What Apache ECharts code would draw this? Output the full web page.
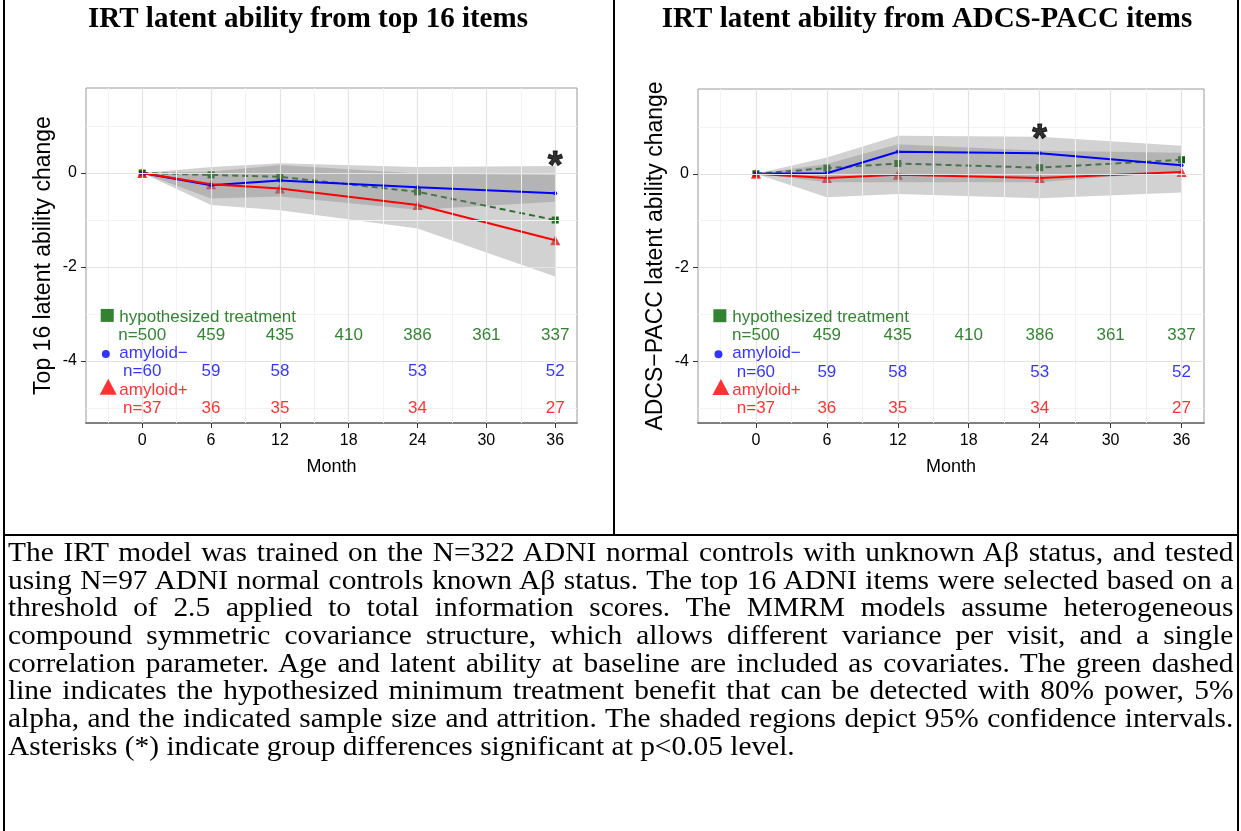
<!DOCTYPE html>
<html>
<head>
<meta charset="utf-8">
<title>IRT latent ability</title>
<script src="https://cdn.jsdelivr.net/npm/echarts@6.0.0/dist/echarts.min.js"></script>
<style>
  html, body { margin: 0; padding: 0; background: #fff; }
  body { width: 1241px; height: 831px; position: relative; overflow: hidden; }
  #chart { position: absolute; left: 0; top: 0; width: 1241px; height: 534px; }
  .rule { position: absolute; background: #000; }
  #caption { position: absolute; left: 8px; top: 539px; width: 1100px; transform: scaleX(1.114); transform-origin: 0 0; font-family: 'Liberation Serif', 'Times New Roman', serif; font-size: 26.4px; color: #000; }
  #caption div { height: 27.7px; line-height: 27.7px; white-space: nowrap; text-align: justify; text-align-last: justify; }
  #caption div.last { text-align-last: left; }
</style>
</head>
<body>
<div id="chart"></div>
<div class="rule" style="left:3px;top:0;width:2px;height:831px"></div>
<div class="rule" style="left:1237px;top:0;width:2px;height:831px"></div>
<div class="rule" style="left:613px;top:0;width:2px;height:535px"></div>
<div class="rule" style="left:3px;top:534px;width:1236px;height:2px"></div>
<div id="caption">
  <div>The IRT model was trained on the N=322 ADNI normal controls with unknown Aβ status, and tested</div>
  <div>using N=97 ADNI normal controls known Aβ status. The top 16 ADNI items were selected based on a</div>
  <div>threshold of 2.5 applied to total information scores. The MMRM models assume heterogeneous</div>
  <div>compound symmetric covariance structure, which allows different variance per visit, and a single</div>
  <div>correlation parameter. Age and latent ability at baseline are included as covariates. The green dashed</div>
  <div>line indicates the hypothesized minimum treatment benefit that can be detected with 80% power, 5%</div>
  <div>alpha, and the indicated sample size and attrition. The shaded regions depict 95% confidence intervals.</div>
  <div class="last">Asterisks (*) indicate group differences significant at p&lt;0.05 level.</div>
</div>
<script>
// visits (months) and axis ticks
const months = [0, 6, 12, 24, 36]
const monthTicks = [0, 6, 12, 18, 24, 30, 36]
const abilityTicks = [-4, -2, 0]
const majorMonths = [0, 6, 12, 18, 24, 30, 36]
const minorMonths = [-3, 3, 9, 15, 21, 27, 33]
const majorAbility = [-4, -2, 0]
const minorAbility = [-5, -3, -1, 1]

// sample sizes printed under the curves
const treatMonths = [0, 6, 12, 18, 24, 30, 36]
const treatN = ['n=500', '459', '435', '410', '386', '361', '337']
const groupMonths = [0, 6, 12, 24, 36]
const negN = ['n=60', '59', '58', '53', '52']
const posN = ['n=37', '36', '35', '34', '27']

// left panel: top 16 items
const top16Hyp = [0, -0.04, -0.08, -0.40, -1.00]
const top16Neg = [0, -0.26, -0.16, -0.30, -0.43]
const top16Pos = [0, -0.24, -0.33, -0.68, -1.43]
const top16NegLow = [0, -0.54, -0.50, -0.78, -0.61]
const top16NegHigh = [0, 0.13, 0.21, 0.13, 0.15]
const top16PosLow = [0, -0.68, -0.79, -1.18, -2.20]
const top16PosHigh = [0, 0.03, 0.17, -0.01, -0.04]
const top16Star = [36, 0.31]

// right panel: ADCS-PACC items
const adcsHyp = [0, 0.12, 0.22, 0.13, 0.30]
const adcsNeg = [0, 0.01, 0.47, 0.44, 0.18]
const adcsPos = [0, -0.09, -0.02, -0.09, 0.04]
const adcsNegLow = [0, -0.18, -0.18, -0.18, 0.06]
const adcsNegHigh = [0, 0.35, 0.81, 0.79, 0.60]
const adcsPosLow = [0, -0.50, -0.43, -0.52, -0.40]
const adcsPosHigh = [0, 0.21, 0.63, 0.49, 0.45]
const adcsStar = [24, 0.91]

const titles = ['IRT latent ability from top 16 items', 'IRT latent ability from ADCS-PACC items']
const yNames = ['Top 16 latent ability change', 'ADCS\u2212PACC latent ability change']

const font = 'Liberation Sans'
const green = '#006400'
const blue = '#0000ff'
const red = '#ff0000'

const chart = echarts.init(document.getElementById('chart'))

function pairs(ys) {
  return months.map((m, k) => [m, ys[k]])
}

function xAxisOf(i) {
  return {
    type: 'value', gridIndex: i, min: -4.9, max: 37.9,
    name: 'Month', nameLocation: 'middle', nameGap: 35,
    nameTextStyle: { fontFamily: font, fontSize: 18, color: '#000' },
    axisLine: { show: true, onZero: false, lineStyle: { color: '#808080', width: 2 } },
    axisTick: { show: true, customValues: monthTicks, length: 5, lineStyle: { color: '#333' } },
    axisLabel: { customValues: monthTicks, margin: 10, fontFamily: font, fontSize: 16, color: '#000' },
    splitLine: { show: false }
  }
}

function yAxisOf(i) {
  return {
    type: 'value', gridIndex: i, min: -5.32, max: 1.81,
    name: yNames[i], nameLocation: 'middle', nameGap: 31,
    nameTextStyle: { fontFamily: font, fontSize: 23, color: '#000' },
    axisLine: { show: false, onZero: false },
    axisTick: { show: true, customValues: abilityTicks, length: 5, lineStyle: { color: '#333' } },
    axisLabel: { customValues: abilityTicks, margin: 9, fontFamily: font, fontSize: 16, color: '#000' },
    splitLine: { show: false }
  }
}

function gridLinesOf(i) {
  const data = []
  minorMonths.forEach(v => data.push({ xAxis: v, lineStyle: { color: '#f3f3f3', width: 1, type: 'solid' } }))
  minorAbility.forEach(v => data.push({ yAxis: v, lineStyle: { color: '#f3f3f3', width: 1, type: 'solid' } }))
  majorMonths.forEach(v => data.push({ xAxis: v, lineStyle: { color: '#e3e3e3', width: 1.2, type: 'solid' } }))
  majorAbility.forEach(v => data.push({ yAxis: v, lineStyle: { color: '#e3e3e3', width: 1.2, type: 'solid' } }))
  return {
    type: 'line', xAxisIndex: i, yAxisIndex: i, data: [], z: 1, silent: true,
    markLine: { silent: true, symbol: 'none', label: { show: false }, animation: false, data }
  }
}

// 95% CI ribbon as one polygon through the axis scales
function bandOf(i, low, high) {
  return {
    type: 'custom', xAxisIndex: i, yAxisIndex: i, z: 3, silent: true,
    data: months.map((m, k) => [m, low[k], high[k]]),
    encode: { x: 0, y: [1, 2] },
    renderItem: (params, api) => {
      if (params.dataIndex !== 0) return null
      const upper = months.map((m, k) => api.coord([m, high[k]]))
      const lower = months.map((m, k) => api.coord([m, low[k]])).reverse()
      return {
        type: 'polygon',
        shape: { points: upper.concat(lower) },
        style: { fill: 'rgba(127,127,127,0.35)' }
      }
    }
  }
}

function textRowOf(i, xs, y, texts, color, align) {
  return {
    type: 'scatter', xAxisIndex: i, yAxisIndex: i, symbolSize: 0, z: 6, silent: true,
    data: xs.map((x, k) => ({ name: texts[k], value: [x, y] })),
    label: { show: true, position: 'inside', align, formatter: '{b}', fontFamily: font, fontSize: 17, color }
  }
}

function keySymbolOf(i, x, y, symbol, size, color) {
  return {
    type: 'scatter', xAxisIndex: i, yAxisIndex: i, symbol, symbolSize: size, z: 6, silent: true,
    itemStyle: { color }, data: [[x, y]]
  }
}

function panelOf(i, hyp, neg, pos, negLow, negHigh, posLow, posHigh, star) {
  return [
    gridLinesOf(i),
    {
      type: 'line', xAxisIndex: i, yAxisIndex: i, data: pairs(hyp), z: 2,
      symbol: 'rect', symbolSize: 7, itemStyle: { color: green },
      lineStyle: { color: green, width: 2, type: [6, 4] }
    },
    {
      type: 'scatter', xAxisIndex: i, yAxisIndex: i, data: pairs(pos), z: 2,
      symbol: 'triangle', symbolSize: 10, itemStyle: { color: red }
    },
    bandOf(i, negLow, negHigh),
    bandOf(i, posLow, posHigh),
    {
      type: 'line', xAxisIndex: i, yAxisIndex: i, data: pairs(neg), z: 4,
      symbol: 'circle', symbolSize: 4, itemStyle: { color: blue },
      lineStyle: { color: blue, width: 2 }
    },
    {
      type: 'line', xAxisIndex: i, yAxisIndex: i, data: pairs(pos), z: 4,
      symbol: 'none', lineStyle: { color: red, width: 2 }
    },
    {
      type: 'scatter', xAxisIndex: i, yAxisIndex: i, symbolSize: 0, z: 6, silent: true,
      data: [{ name: '*', value: star }],
      label: {
        show: true, position: 'inside', formatter: '{b}', offset: [0, 9],
        fontFamily: font, fontSize: 38, fontWeight: 'bold', color: '#000',
        textBorderColor: '#000', textBorderWidth: 1
      }
    },
    keySymbolOf(i, -3.05, -3.03, 'rect', 13, green),
    textRowOf(i, [-2.0], -3.06, ['hypothesized treatment'], green, 'left'),
    textRowOf(i, treatMonths, -3.45, treatN, green, 'center'),
    keySymbolOf(i, -3.17, -3.85, 'circle', 8, blue),
    textRowOf(i, [-2.0], -3.83, ['amyloid\u2212'], blue, 'left'),
    textRowOf(i, groupMonths, -4.23, negN, blue, 'center'),
    keySymbolOf(i, -2.96, -4.55, 'triangle', [17, 16], red),
    textRowOf(i, [-2.0], -4.62, ['amyloid+'], red, 'left'),
    textRowOf(i, groupMonths, -5.01, posN, red, 'center')
  ]
}

chart.setOption({
  animation: false,
  backgroundColor: '#fff',
  grid: [
    { left: 86, top: 88, width: 491, height: 335, show: true, borderColor: '#9a9a9a', borderWidth: 1, backgroundColor: '#fff' },
    { left: 698, top: 89, width: 506, height: 334, show: true, borderColor: '#9a9a9a', borderWidth: 1, backgroundColor: '#fff' }
  ],
  graphic: [
    { type: 'text', x: 308, y: 20, style: { text: titles[0], fontFamily: 'Liberation Serif', fontSize: 29, fontWeight: 'bold', fill: '#000', align: 'center', verticalAlign: 'middle' } },
    { type: 'text', x: 927, y: 20, style: { text: titles[1], fontFamily: 'Liberation Serif', fontSize: 29, fontWeight: 'bold', fill: '#000', align: 'center', verticalAlign: 'middle' } }
  ],
  xAxis: [xAxisOf(0), xAxisOf(1)],
  yAxis: [yAxisOf(0), yAxisOf(1)],
  series: [
    ...panelOf(0, top16Hyp, top16Neg, top16Pos, top16NegLow, top16NegHigh, top16PosLow, top16PosHigh, top16Star),
    ...panelOf(1, adcsHyp, adcsNeg, adcsPos, adcsNegLow, adcsNegHigh, adcsPosLow, adcsPosHigh, adcsStar)
  ]
})
</script>
</body>
</html>
